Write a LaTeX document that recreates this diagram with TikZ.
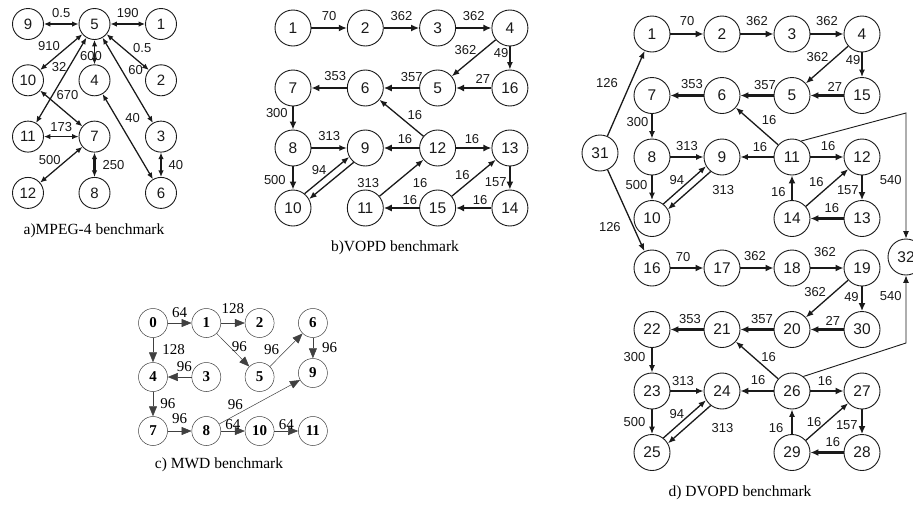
\documentclass[tikz,border=0pt]{standalone}
\usepackage{fontspec}
\setmainfont{Liberation Serif}
\newfontfamily\arialFont{Liberation Sans}
\usepackage{tikz}
\usetikzlibrary{positioning}
\usetikzlibrary{arrows.meta}
\definecolor{darkInk}{HTML}{1a1a1a}
\definecolor{grayInk}{HTML}{404040}

\begin{document}
\begin{tikzpicture}[x=1pt, y=-1pt, inner sep=0.0pt, align=center,
        taskNode/.style={draw=darkInk, circle, line width=0.9pt, text=darkInk, minimum size=36pt, font=\arialFont\fontsize{15.5}{16}\selectfont},
        mpegNode/.style={taskNode, minimum size=31pt, font=\arialFont\fontsize{15}{16}\selectfont},
        mwdNode/.style={draw=grayInk, circle, line width=0.5pt, minimum size=29pt, font=\bfseries\fontsize{15}{16}\selectfont},
        bwLabel/.style={text=darkInk, font=\arialFont\fontsize{13}{14}\selectfont},
        mwdLabel/.style={font=\fontsize{15}{16}\selectfont},
        benchCaption/.style={font=\fontsize{15.5}{16}\selectfont},
        pairLink/.style={draw=darkInk, line width=1.25pt, {Latex[length=6.5pt,width=5.5pt]}-{Latex[length=6.5pt,width=5.5pt]}},
        flowLink/.style={draw=darkInk, line width=1.3pt, -{Latex[length=7.5pt,width=6pt]}},
        fatLink/.style={draw=darkInk, line width=2.6pt, -{Latex[length=8pt,width=7pt]}},
        thinLink/.style={draw=darkInk, line width=0.9pt, -{Latex[length=7.5pt,width=6pt]}},
        mwdLink/.style={draw=grayInk, line width=0.5pt, -{Triangle[length=10pt,width=8pt]}}]

    \path [use as bounding box, fill=white] (0,0) rectangle (913,504);

    % a) MPEG-4
    \pgfmathsetmacro{\mpegCol}{66.5}
    \pgfmathsetmacro{\mpegRow}{56.3}
    \node (mpeg9) [mpegNode] at (28,24) {9};
    \node (mpeg5) [mpegNode, right=\mpegCol*1pt of mpeg9.center, anchor=center] {5};
    \node (mpeg1) [mpegNode, right=\mpegCol*1pt of mpeg5.center, anchor=center] {1};
    \node (mpeg10) [mpegNode, below=\mpegRow*1pt of mpeg9.center, anchor=center] {10};
    \node (mpeg4) [mpegNode, below=\mpegRow*1pt of mpeg5.center, anchor=center] {4};
    \node (mpeg2) [mpegNode, below=\mpegRow*1pt of mpeg1.center, anchor=center] {2};
    \node (mpeg11) [mpegNode, below=\mpegRow*1pt of mpeg10.center, anchor=center] {11};
    \node (mpeg7) [mpegNode, below=\mpegRow*1pt of mpeg4.center, anchor=center] {7};
    \node (mpeg3) [mpegNode, below=\mpegRow*1pt of mpeg2.center, anchor=center] {3};
    \node (mpeg12) [mpegNode, below=\mpegRow*1pt of mpeg11.center, anchor=center] {12};
    \node (mpeg8) [mpegNode, below=\mpegRow*1pt of mpeg7.center, anchor=center] {8};
    \node (mpeg6) [mpegNode, below=\mpegRow*1pt of mpeg3.center, anchor=center] {6};

    \draw [pairLink] (mpeg9) -- node [bwLabel, above=6pt] {0.5} (mpeg5);
    \draw [pairLink] (mpeg5) -- node [bwLabel, above=6pt] {190} (mpeg1);
    \draw [pairLink] (mpeg5) -- node [bwLabel, above left=1pt] {910} (mpeg10);
    \draw [pairLink] (mpeg5) -- node [bwLabel, pos=0.345, left=2pt] {32} (mpeg11);
    \draw [pairLink] (mpeg5) -- node [bwLabel, pos=0.65, xshift=-3.5pt] {600} (mpeg4);
    \draw [pairLink] (mpeg5) -- node [bwLabel, pos=0.58, above right=2pt] {0.5} (mpeg2);
    \draw [pairLink] (mpeg5) -- node [bwLabel, pos=0.38, right=6pt] {60} (mpeg3);
    \draw [pairLink] (mpeg10) -- node [bwLabel, pos=0.65, above=14pt] {670} (mpeg7);
    \draw [pairLink] (mpeg4) -- node [bwLabel, pos=0.28, right=8pt] {40} (mpeg6);
    \draw [pairLink] (mpeg11) -- node [bwLabel, above=4pt] {173} (mpeg7);
    \draw [pairLink] (mpeg12) -- node [bwLabel, above left=0pt] {500} (mpeg7);
    \draw [pairLink, line width=2.4pt] (mpeg7) -- node [bwLabel, right=7pt] {250} (mpeg8);
    \draw [pairLink] (mpeg3) -- node [bwLabel, right=7pt] {40} (mpeg6);

    \node (mpegCaption) [benchCaption] at (94,231) {a)MPEG-4 benchmark};

    % b) VOPD
    \pgfmathsetmacro{\vopdCol}{72.3}
    \pgfmathsetmacro{\vopdRow}{60}
    \node (vopd1) [taskNode] at (293,28) {1};
    \node (vopd2) [taskNode, right=\vopdCol*1pt of vopd1.center, anchor=center] {2};
    \node (vopd3) [taskNode, right=\vopdCol*1pt of vopd2.center, anchor=center] {3};
    \node (vopd4) [taskNode, right=\vopdCol*1pt of vopd3.center, anchor=center] {4};
    \node (vopd7) [taskNode, below=\vopdRow*1pt of vopd1.center, anchor=center] {7};
    \node (vopd6) [taskNode, below=\vopdRow*1pt of vopd2.center, anchor=center] {6};
    \node (vopd5) [taskNode, below=\vopdRow*1pt of vopd3.center, anchor=center] {5};
    \node (vopd16) [taskNode, below=\vopdRow*1pt of vopd4.center, anchor=center] {16};
    \node (vopd8) [taskNode, below=\vopdRow*1pt of vopd7.center, anchor=center] {8};
    \node (vopd9) [taskNode, below=\vopdRow*1pt of vopd6.center, anchor=center] {9};
    \node (vopd12) [taskNode, below=\vopdRow*1pt of vopd5.center, anchor=center] {12};
    \node (vopd13) [taskNode, below=\vopdRow*1pt of vopd16.center, anchor=center] {13};
    \node (vopd10) [taskNode, below=\vopdRow*1pt of vopd8.center, anchor=center] {10};
    \node (vopd11) [taskNode, below=\vopdRow*1pt of vopd9.center, anchor=center] {11};
    \node (vopd15) [taskNode, below=\vopdRow*1pt of vopd12.center, anchor=center] {15};
    \node (vopd14) [taskNode, below=\vopdRow*1pt of vopd13.center, anchor=center] {14};

    \draw [fatLink] (vopd1) -- node [bwLabel, above=6pt] {70} (vopd2);
    \draw [fatLink] (vopd2) -- node [bwLabel, above=6pt] {362} (vopd3);
    \draw [fatLink] (vopd3) -- node [bwLabel, above=6pt] {362} (vopd4);
    \draw [flowLink] (vopd4) -- node [bwLabel, pos=0.29, left=6pt] {362} (vopd5);
    \draw [flowLink] (vopd4) -- node [bwLabel, pos=0.28, left=1pt] {49} (vopd16);
    \draw [fatLink] (vopd16) -- node [bwLabel, pos=0.24, above=3pt] {27} (vopd5);
    \draw [fatLink] (vopd5) -- node [bwLabel, pos=0.21, above=5pt] {357} (vopd6);
    \draw [fatLink] (vopd6) -- node [bwLabel, pos=0.33, above=6pt] {353} (vopd7);
    \draw [fatLink] (vopd7) -- node [bwLabel, pos=0.28, left=4pt] {300} (vopd8);
    \draw [flowLink] (vopd12) -- node [bwLabel, pos=0.58, right=9pt] {16} (vopd6);
    \draw [flowLink] (vopd8) -- node [bwLabel, above=7pt] {313} (vopd9);
    \draw [fatLink] (vopd12) -- node [bwLabel, pos=0.4, above=3pt] {16} (vopd9);
    \draw [fatLink] (vopd12) -- node [bwLabel, pos=0.45, above=3pt] {16} (vopd13);
    \draw [fatLink] (vopd8) -- node [bwLabel, pos=0.59, left=6pt] {500} (vopd10);
    \draw [flowLink] (vopd10.51) -- node [bwLabel, above left=0pt] {94} (vopd9.209);
    \draw [flowLink] (vopd9.231) -- node [bwLabel, pos=0.56, right=28pt] {313} (vopd10.29);
    \draw [flowLink] (vopd11) -- node [bwLabel, pos=0.36, right=17pt] {16} (vopd12);
    \draw [flowLink] (vopd15) -- node [bwLabel, pos=0.58, left=7pt] {16} (vopd13);
    \draw [fatLink] (vopd13) -- node [bwLabel, pos=0.67, left=2pt] {157} (vopd14);
    \draw [fatLink] (vopd15) -- node [bwLabel, pos=0.26, above=2pt] {16} (vopd11);
    \draw [fatLink] (vopd14) -- node [bwLabel, pos=0.32, above=2pt] {16} (vopd15);

    \node (vopdCaption) [benchCaption] at (395,248) {b)VOPD benchmark};

    % c) MWD
    \pgfmathsetmacro{\mwdCol}{53.3}
    \pgfmathsetmacro{\mwdRow}{54}
    \node (mwd0) [mwdNode] at (153,323) {0};
    \node (mwd1) [mwdNode, right=\mwdCol*1pt of mwd0.center, anchor=center] {1};
    \node (mwd2) [mwdNode, right=\mwdCol*1pt of mwd1.center, anchor=center] {2};
    \node (mwd6) [mwdNode, right=\mwdCol*1pt of mwd2.center, anchor=center] {6};
    \node (mwd4) [mwdNode, below=\mwdRow*1pt of mwd0.center, anchor=center] {4};
    \node (mwd3) [mwdNode, below=\mwdRow*1pt of mwd1.center, anchor=center] {3};
    \node (mwd5) [mwdNode, below=\mwdRow*1pt of mwd2.center, anchor=center] {5};
    \node (mwd9) [mwdNode, below=50pt of mwd6.center, anchor=center] {9};
    \node (mwd7) [mwdNode, below=\mwdRow*1pt of mwd4.center, anchor=center] {7};
    \node (mwd8) [mwdNode, below=\mwdRow*1pt of mwd3.center, anchor=center] {8};
    \node (mwd10) [mwdNode, below=\mwdRow*1pt of mwd5.center, anchor=center] {10};
    \node (mwd11) [mwdNode, below=\mwdRow*2pt of mwd6.center, anchor=center] {11};

    \draw [mwdLink] (mwd0) -- node [mwdLabel, above=5pt] {64} (mwd1);
    \draw [mwdLink] (mwd1) -- node [mwdLabel, above=9pt] {128} (mwd2);
    \draw [mwdLink] (mwd0) -- node [mwdLabel, right=9pt] {128} (mwd4);
    \draw [mwdLink] (mwd1) -- node [mwdLabel, above right=-2pt] {96} (mwd5);
    \draw [mwdLink] (mwd5) -- node [mwdLabel, left=7pt] {96} (mwd6);
    \draw [mwdLink] (mwd6) -- node [mwdLabel, right=9pt] {96} (mwd9);
    \draw [mwdLink] (mwd3) -- node [mwdLabel, pos=0.3, above=5pt] {96} (mwd4);
    \draw [mwdLink] (mwd4) -- node [mwdLabel, right=7pt] {96} (mwd7);
    \draw [mwdLink] (mwd7) -- node [mwdLabel, above=7pt] {96} (mwd8);
    \draw [mwdLink] (mwd8) -- node [mwdLabel, pos=0.2, above=5pt] {96} (mwd9);
    \draw [mwdLink] (mwd8) -- node [mwdLabel, above=1pt] {64} (mwd10);
    \draw [mwdLink] (mwd10) -- node [mwdLabel, above=1pt] {64} (mwd11);

    \node (mwdCaption) [benchCaption] at (219,465) {c) MWD benchmark};

    % d) DVOPD
    \pgfmathsetmacro{\dvopdCol}{70}
    \pgfmathsetmacro{\dvopdRow}{61.5}
    \node (dvopd1) [taskNode] at (652,34) {1};
    \node (dvopd2) [taskNode, right=\dvopdCol*1pt of dvopd1.center, anchor=center] {2};
    \node (dvopd3) [taskNode, right=\dvopdCol*1pt of dvopd2.center, anchor=center] {3};
    \node (dvopd4) [taskNode, right=\dvopdCol*1pt of dvopd3.center, anchor=center] {4};
    \node (dvopd7) [taskNode, below=\dvopdRow*1pt of dvopd1.center, anchor=center] {7};
    \node (dvopd6) [taskNode, below=\dvopdRow*1pt of dvopd2.center, anchor=center] {6};
    \node (dvopd5) [taskNode, below=\dvopdRow*1pt of dvopd3.center, anchor=center] {5};
    \node (dvopd15) [taskNode, below=\dvopdRow*1pt of dvopd4.center, anchor=center] {15};
    \node (dvopd8) [taskNode, below=\dvopdRow*1pt of dvopd7.center, anchor=center] {8};
    \node (dvopd9) [taskNode, below=\dvopdRow*1pt of dvopd6.center, anchor=center] {9};
    \node (dvopd11) [taskNode, below=\dvopdRow*1pt of dvopd5.center, anchor=center] {11};
    \node (dvopd12) [taskNode, below=\dvopdRow*1pt of dvopd15.center, anchor=center] {12};
    \node (dvopd10) [taskNode, below=\dvopdRow*1pt of dvopd8.center, anchor=center] {10};
    \node (dvopd14) [taskNode, below=\dvopdRow*1pt of dvopd11.center, anchor=center] {14};
    \node (dvopd13) [taskNode, below=\dvopdRow*1pt of dvopd12.center, anchor=center] {13};

    \node (dvopd16) [taskNode, below=234pt of dvopd1.center, anchor=center] {16};
    \node (dvopd17) [taskNode, right=\dvopdCol*1pt of dvopd16.center, anchor=center] {17};
    \node (dvopd18) [taskNode, right=\dvopdCol*1pt of dvopd17.center, anchor=center] {18};
    \node (dvopd19) [taskNode, right=\dvopdCol*1pt of dvopd18.center, anchor=center] {19};
    \node (dvopd22) [taskNode, below=\dvopdRow*1pt of dvopd16.center, anchor=center] {22};
    \node (dvopd21) [taskNode, below=\dvopdRow*1pt of dvopd17.center, anchor=center] {21};
    \node (dvopd20) [taskNode, below=\dvopdRow*1pt of dvopd18.center, anchor=center] {20};
    \node (dvopd30) [taskNode, below=\dvopdRow*1pt of dvopd19.center, anchor=center] {30};
    \node (dvopd23) [taskNode, below=\dvopdRow*1pt of dvopd22.center, anchor=center] {23};
    \node (dvopd24) [taskNode, below=\dvopdRow*1pt of dvopd21.center, anchor=center] {24};
    \node (dvopd26) [taskNode, below=\dvopdRow*1pt of dvopd20.center, anchor=center] {26};
    \node (dvopd27) [taskNode, below=\dvopdRow*1pt of dvopd30.center, anchor=center] {27};
    \node (dvopd25) [taskNode, below=\dvopdRow*1pt of dvopd23.center, anchor=center] {25};
    \node (dvopd29) [taskNode, below=\dvopdRow*1pt of dvopd26.center, anchor=center] {29};
    \node (dvopd28) [taskNode, below=\dvopdRow*1pt of dvopd27.center, anchor=center] {28};

    \node (dvopd31) [taskNode] at (600,153) {31};
    \node (dvopd32) [taskNode] at (906,257) {32};
    \coordinate (dvopdTurnTop) at (906,113);
    \coordinate (dvopdTurnLow) at (906,343);

    \draw [fatLink] (dvopd1) -- node [bwLabel, above=7pt] {70} (dvopd2);
    \draw [fatLink] (dvopd2) -- node [bwLabel, above=7pt] {362} (dvopd3);
    \draw [fatLink] (dvopd3) -- node [bwLabel, above=7pt] {362} (dvopd4);
    \draw [flowLink] (dvopd4) -- node [bwLabel, pos=0.29, left=7pt] {362} (dvopd5);
    \draw [flowLink] (dvopd4) -- node [bwLabel, pos=0.31, left=1pt] {49} (dvopd15);
    \draw [fatLink] (dvopd15) -- node [bwLabel, pos=0.26, above=3pt] {27} (dvopd5);
    \draw [fatLink] (dvopd5) -- node [bwLabel, pos=0.26, above=5pt] {357} (dvopd6);
    \draw [fatLink] (dvopd6) -- node [bwLabel, pos=0.35, above=6pt] {353} (dvopd7);
    \draw [flowLink] (dvopd7) -- node [bwLabel, pos=0.33, left=3pt] {300} (dvopd8);
    \draw [flowLink] (dvopd11) -- node [bwLabel, pos=0.66, right=11pt] {16} (dvopd6);
    \draw [flowLink] (dvopd8) -- node [bwLabel, above=6pt] {313} (dvopd9);
    \draw [flowLink] (dvopd11) -- node [bwLabel, pos=0.41, above=5pt] {16} (dvopd9);
    \draw [fatLink] (dvopd11) -- node [bwLabel, pos=0.53, above=5pt] {16} (dvopd12);
    \draw [flowLink] (dvopd8) -- node [bwLabel, pos=0.39, left=4pt] {500} (dvopd10);
    \draw [flowLink] (dvopd10.52) -- node [bwLabel, above left=0pt] {94} (dvopd9.210);
    \draw [flowLink] (dvopd9.232) -- node [bwLabel, pos=0.49, right=22pt] {313} (dvopd10.30);
    \draw [fatLink] (dvopd14) -- node [bwLabel, pos=0.33, left=5pt] {16} (dvopd11);
    \draw [flowLink] (dvopd14) -- node [bwLabel, pos=0.65, left=9pt] {16} (dvopd12);
    \draw [fatLink] (dvopd12) -- node [bwLabel, pos=0.59, left=2pt] {157} (dvopd13);
    \draw [fatLink] (dvopd13) -- node [bwLabel, pos=0.35, above=5pt] {16} (dvopd14);

    \draw [flowLink] (dvopd31) -- node [bwLabel, pos=0.62, left=12pt] {126} (dvopd1);
    \draw [flowLink] (dvopd31) -- node [bwLabel, pos=0.70, left=12pt] {126} (dvopd16);

    \draw [fatLink] (dvopd16) -- node [bwLabel, pos=0.38, above=5pt] {70} (dvopd17);
    \draw [fatLink] (dvopd17) -- node [bwLabel, pos=0.44, above=6pt] {362} (dvopd18);
    \draw [fatLink] (dvopd18) -- node [bwLabel, pos=0.44, above=10pt] {362} (dvopd19);
    \draw [flowLink] (dvopd19) -- node [bwLabel, pos=0.32, left=8pt] {362} (dvopd20);
    \draw [fatLink] (dvopd19) -- node [bwLabel, pos=0.43, left=2pt] {49} (dvopd30);
    \draw [fatLink] (dvopd30) -- node [bwLabel, pos=0.32, above=3pt] {27} (dvopd20);
    \draw [fatLink] (dvopd20) -- node [bwLabel, pos=0.35, above=5pt] {357} (dvopd21);
    \draw [fatLink] (dvopd21) -- node [bwLabel, pos=0.41, above=5pt] {353} (dvopd22);
    \draw [flowLink] (dvopd22) -- node [bwLabel, pos=0.37, left=6pt] {300} (dvopd23);
    \draw [flowLink] (dvopd26) -- node [bwLabel, pos=0.58, right=7pt] {16} (dvopd21);
    \draw [flowLink] (dvopd23) -- node [bwLabel, pos=0.38, above=5pt] {313} (dvopd24);
    \draw [fatLink] (dvopd26) -- node [bwLabel, pos=0.47, above=5pt] {16} (dvopd24);
    \draw [fatLink] (dvopd26) -- node [bwLabel, pos=0.44, above=4pt] {16} (dvopd27);
    \draw [flowLink] (dvopd23) -- node [bwLabel, pos=0.51, left=6pt] {500} (dvopd25);
    \draw [flowLink] (dvopd25.52) -- node [bwLabel, above left=0pt] {94} (dvopd24.210);
    \draw [flowLink] (dvopd24.232) -- node [bwLabel, pos=0.6, right=26pt] {313} (dvopd25.30);
    \draw [flowLink] (dvopd29) -- node [bwLabel, pos=0.25, left=8pt] {16} (dvopd26);
    \draw [flowLink] (dvopd29) -- node [bwLabel, pos=0.5, left=5pt] {16} (dvopd27);
    \draw [fatLink] (dvopd27) -- node [bwLabel, pos=0.63, left=3pt] {157} (dvopd28);
    \draw [fatLink] (dvopd28) -- node [bwLabel, pos=0.32, above=5pt] {16} (dvopd29);

    \draw [thinLink] (dvopd11.60) -- (dvopdTurnTop) -- node [bwLabel, pos=0.53, left=4pt] {540} (dvopd32.north);
    \draw [thinLink] (dvopd26.52) -- (dvopdTurnLow) -- node [bwLabel, pos=0.69, left=4pt] {540} (dvopd32.south);

    \node (dvopdCaption) [benchCaption] at (740,493) {d) DVOPD benchmark};

\end{tikzpicture}
\end{document}
